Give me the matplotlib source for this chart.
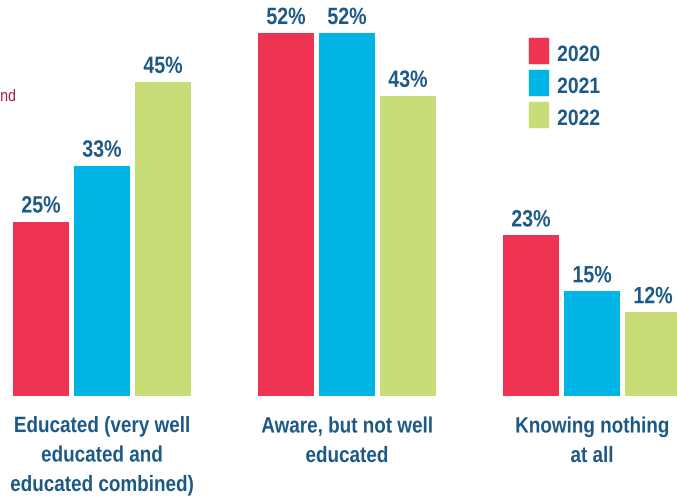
import matplotlib.pyplot as plt
from matplotlib.patches import Rectangle
from matplotlib.patheffects import AbstractPathEffect
from matplotlib.transforms import Affine2D
import numpy as np

categories = ["Educated (very well\neducated and\neducated combined)",
              "Aware, but not well\neducated",
              "Knowing nothing\nat all"]
years = ["2020", "2021", "2022"]
values = {
    "2020": [25, 52, 23],
    "2021": [33, 52, 15],
    "2022": [45, 43, 12],
}
colors = ["#ee3452", "#00b4e6", "#c8dc78"]
text_color = "#1c5987"


class Narrow(AbstractPathEffect):
    """squash glyphs horizontally to fake a condensed face"""
    def __init__(self, sx=0.84, about="center"):
        super().__init__()
        self.sx = sx
        self.about = about

    def draw_path(self, renderer, gc, tpath, affine, rgbFace=None):
        ext = tpath.get_extents()
        cx = ext.x0 if self.about == "left" else (ext.x0 + ext.x1) / 2
        t = Affine2D().translate(-cx, 0).scale(self.sx, 1).translate(cx, 0)
        renderer.draw_path(gc, tpath, t + affine, rgbFace)


plt.rcParams['font.family'] = ['Liberation Sans', 'DejaVu Sans']

fig = plt.figure(figsize=(6.77, 4.97), dpi=100)
ax = fig.add_axes([0, 0, 1, 1])

# pixel based scale: 245 px between groups, ~6.98 px per percent
ppu = 245.0
ppp = 6.98
width = 56 / ppu
step = 61 / ppu
ax.set_xlim(-102 / ppu, (677 - 102) / ppu)
ax.set_ylim(-101 / ppp, 396 / ppp)
ax.axis("off")

x = np.arange(len(categories))
for i, yr in enumerate(years):
    xs = x + (i - 1) * step
    ax.bar(xs, values[yr], width=width, color=colors[i])
    for xi, v in zip(xs, values[yr]):
        ax.text(xi, v + 9 / ppp, f"{v}%", ha="center", va="baseline",
                fontsize=17, fontweight="bold", color=text_color,
                path_effects=[Narrow(0.83)])

# baseline of the last line sits 29px lower per extra line
for xi, c in zip(x, categories):
    nl = c.count("\n")
    ax.text(xi, -(37 + 29 * nl) / ppp, c, ha="center", va="baseline", fontsize=16,
            fontweight="bold", color=text_color, linespacing=1.53,
            path_effects=[Narrow(0.85)])

# legend
for i, yr in enumerate(years):
    ytop = 38 + i * 32
    fig.patches.append(Rectangle((529 / 677, 1 - (ytop + 25) / 497), 19 / 677, 25 / 497,
                                 transform=fig.transFigure, color=colors[i]))
    fig.text(557 / 677, 1 - (ytop + 23) / 497, yr, ha="left", va="baseline",
             fontsize=16, fontweight="bold", color=text_color,
             path_effects=[Narrow(0.87, about="left")])

fig.text(0, 1 - 101 / 497, "nd", ha="left", va="baseline", fontsize=12,
         color="#a3174e", path_effects=[Narrow(0.85, about="left")])

fig.savefig("out.png", dpi=100)
